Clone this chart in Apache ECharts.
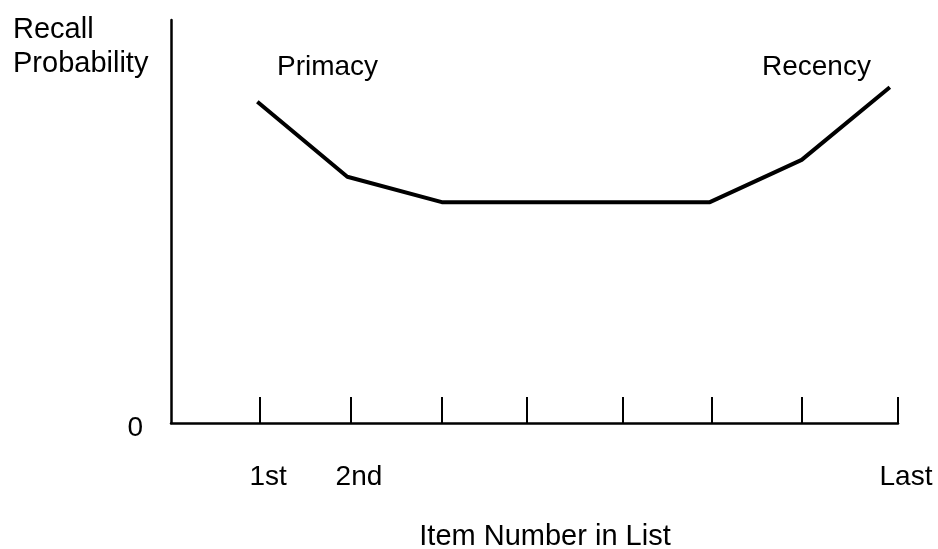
<!DOCTYPE html>
<html>
<head>
<meta charset="utf-8">
<script src="https://cdn.jsdelivr.net/npm/echarts@6/dist/echarts.min.js"></script>
<style>
html,body{margin:0;padding:0;background:#fff;}
#chart{width:938px;height:549px;}
</style>
</head>
<body>
<div id="chart"></div>
<script>
// Serial position curve
const itemPositions = [0.95, 1.94, 2.98, 5.93, 6.94, 7.91];
const recallValues = [79.7, 61.1, 54.8, 54.8, 65.3, 83.3];
const tickPositions = [0.98, 1.98, 2.98, 3.91, 4.97, 5.95, 6.94, 8];
const labelPositions = [0.98, 1.98, 8];
const labelTexts = ['1st', '2nd', 'Last'];
const yTickValues = [0];
const xAxisTitle = 'Item Number in List';
const yAxisTitle = 'Recall\nProbability';
const annotations = ['Primacy', 'Recency'];

const FONT = 'Liberation Sans';
const chart = echarts.init(document.getElementById('chart'), null, {renderer: 'canvas'});

const option = {
  backgroundColor: '#ffffff',
  animation: false,
  textStyle: {fontFamily: FONT, color: '#000'},
  title: [
    {text: yAxisTitle, left: 8, top: 8,
     textStyle: {fontFamily: FONT, fontSize: 29, fontWeight: 'normal', color: '#000', lineHeight: 34}},
    {text: annotations[0], left: 272, top: 48,
     textStyle: {fontFamily: FONT, fontSize: 28, fontWeight: 'normal', color: '#000'}},
    {text: annotations[1], left: 757, top: 48,
     textStyle: {fontFamily: FONT, fontSize: 28, fontWeight: 'normal', color: '#000'}}
  ],
  grid: {left: 171, right: 40, top: 20, bottom: 126, containLabel: false, outerBoundsMode: 'none'},
  xAxis: {
    type: 'value', min: 0, max: 8,
    axisLine: {show: true, onZero: false, lineStyle: {color: '#000', width: 2.5}},
    axisTick: {show: true, inside: true, length: 26, customValues: tickPositions,
               lineStyle: {color: '#000', width: 2}},
    axisLabel: {show: true, customValues: labelPositions, margin: 40,
                fontFamily: FONT, fontSize: 28, color: '#000', padding: [0, 0, 0, 16],
                formatter: function (v) {
                  const i = labelPositions.indexOf(v);
                  return i >= 0 ? labelTexts[i] : '';
                }},
    splitLine: {show: false},
    name: xAxisTitle, nameLocation: 'middle', nameGap: 99,
    nameTextStyle: {fontFamily: FONT, fontSize: 29, color: '#000', padding: [0, 0, 0, 21]}
  },
  yAxis: {
    type: 'value', min: 0, max: 100,
    axisLine: {show: true, onZero: false, lineStyle: {color: '#000', width: 2.5}},
    axisTick: {show: false},
    axisLabel: {show: true, customValues: yTickValues, margin: 28,
                fontFamily: FONT, fontSize: 28, color: '#000',
                verticalAlign: 'top', lineHeight: 10},
    splitLine: {show: false}
  },
  series: [{
    type: 'line',
    data: itemPositions.map((x, i) => [x, recallValues[i]]),
    showSymbol: false,
    lineStyle: {color: '#000', width: 4},
    itemStyle: {color: '#000'}
  }]
};
chart.setOption(option);
</script>
</body>
</html>
